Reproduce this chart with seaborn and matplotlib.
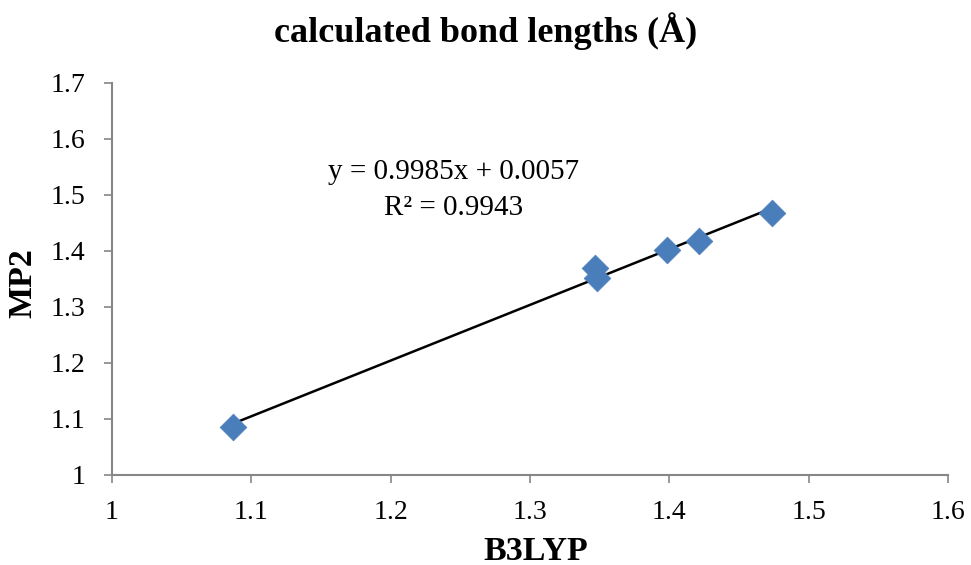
# bond_lengths.py
# MP2 vs B3LYP calculated bond lengths, with linear trendline

import numpy as np
import pandas as pd
import matplotlib
matplotlib.use('Agg')
import matplotlib.pyplot as plt
import seaborn as sns

# ── Data ──────────────────────────────────────────────────
b3lyp = [1.087, 1.347, 1.348, 1.398, 1.421, 1.474]
mp2   = [1.086, 1.370, 1.352, 1.402, 1.418, 1.468]

x_ticks = [1, 1.1, 1.2, 1.3, 1.4, 1.5, 1.6]
y_ticks = [1, 1.1, 1.2, 1.3, 1.4, 1.5, 1.6, 1.7]
x_tick_labels = ['1', '1.1', '1.2', '1.3', '1.4', '1.5', '1.6']
y_tick_labels = ['1', '1.1', '1.2', '1.3', '1.4', '1.5', '1.6', '1.7']

eq_text = 'y = 0.9985x + 0.0057'
r2_text = 'R² = 0.9943'

df = pd.DataFrame({'B3LYP': b3lyp, 'MP2': mp2})

sns.set_style('white')
plt.rcParams['font.family'] = ['Liberation Serif', 'DejaVu Serif']
plt.rcParams['text.color'] = 'black'
plt.rcParams['axes.labelcolor'] = 'black'

fig = plt.figure(figsize=(9.71, 5.65), dpi=100)
ax = fig.add_axes([0.1153, 0.1593, 0.861, 0.6938])

# trendline
sns.regplot(data=df, x='B3LYP', y='MP2', ax=ax, scatter=False, ci=None,
            line_kws={'color': 'black', 'linewidth': 1.8, 'zorder': 2})

# points
sns.scatterplot(data=df, x='B3LYP', y='MP2', ax=ax, marker='D', s=185,
                color='#4A7EBB', edgecolor='#4A7EBB', linewidth=0.5,
                zorder=3)

ax.set_xlim(1, 1.6)
ax.set_ylim(1, 1.7)
ax.set_xticks(x_ticks)
ax.set_xticklabels(x_tick_labels)
ax.set_yticks(y_ticks)
ax.set_yticklabels(y_tick_labels)

ax.tick_params(axis='both', which='major', labelsize=20, length=6,
               width=1.2, color='#868686', direction='out',
               bottom=True, left=True, labelcolor='black')
ax.tick_params(axis='x', pad=12)
ax.tick_params(axis='y', pad=13)

for side in ['top', 'right']:
    ax.spines[side].set_visible(False)
for side in ['left', 'bottom']:
    ax.spines[side].set_color('#868686')
    ax.spines[side].set_linewidth(1.5)

ax.set_xlabel('B3LYP', fontsize=24.5, fontweight='bold', va='center')
ax.set_ylabel('MP2', fontsize=24.5, fontweight='bold', va='center')
ax.xaxis.set_label_coords(0.507, -0.194)
ax.yaxis.set_label_coords(-0.1065, 0.49)

fig.text(0.5, 0.945, 'calculated bond lengths (Å)', ha='center', va='center',
         fontsize=26, fontweight='bold')

ax.text(1.245, 1.541, eq_text, ha='center', va='center', fontsize=21)
ax.text(1.245, 1.477, r2_text, ha='center', va='center', fontsize=21)

plt.savefig('out.png', dpi=100)
plt.close()
